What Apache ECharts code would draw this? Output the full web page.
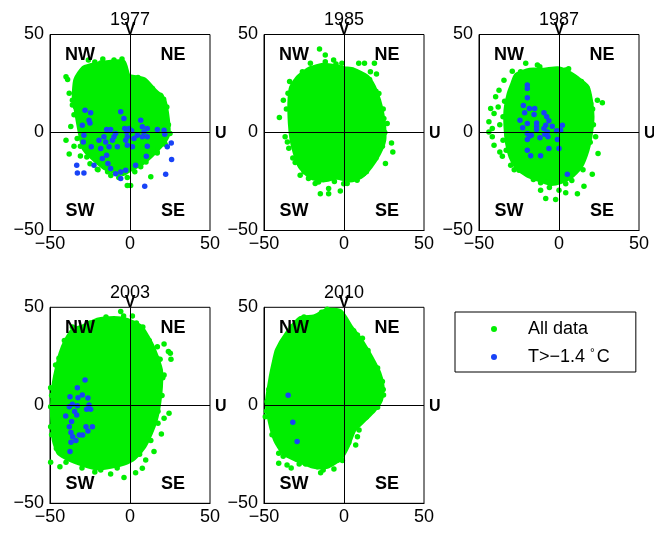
<!DOCTYPE html>
<html><head><meta charset="utf-8">
<script src="https://cdn.jsdelivr.net/npm/echarts@6/dist/echarts.min.js"></script>
<style>html,body{margin:0;padding:0;background:#fff}#c{width:654px;height:534px}</style>
</head><body><div id="c"></div>
<script>
// ---------- data ----------
const years = ['1977', '1985', '1987', '2003', '2010'];
const tickValues = [-50, 0, 50];
const quadrantNames = ['NW', 'NE', 'SW', 'SE'];
const legendNames = ['All data', 'T>−1.4 °C'];

// dense core outline of each "All data" cloud (U, V)
const core1977 = [[-35,18],[-34,27],[-29,33],[-20,35],[-12,36],[-4,36],[-1,29],[4,28],[9,27],[16,21],[21,17],[23,10],[24,0],[22,-4],[19,-7],[13,-12],[7,-16],[0,-19],[-4,-21],[-10,-20],[-16,-18],[-22,-14],[-26,-11],[-29,-8],[-31,-1],[-33,8]];
const core1985 = [[-34,15],[-33,23],[-28.5,28.4],[-21,32.7],[-13,34.4],[-4.4,33.6],[0,32.7],[6,32],[14.4,28.4],[18.6,23.3],[21.8,16.5],[23.8,9.7],[25,3],[25,-4],[21.8,-10.7],[16.5,-17.5],[10.3,-22.7],[4,-24.4],[-4.4,-23],[-12.8,-24.4],[-21,-22.7],[-27.4,-17.5],[-30.5,-10.7],[-32.6,-3.9],[-33.7,4.6]];
const core1987 = [[-31.3,19.9],[-29,25],[-26.7,29.3],[-18.3,31.9],[-9.4,31.9],[-1,32.7],[5.2,31],[11.5,27.6],[17.7,23.3],[19.8,16.5],[20.8,8],[19.8,-0.5],[17.7,-9],[13.5,-17.5],[7.3,-22.7],[1,-25.2],[-5.2,-26.1],[-11.5,-24.4],[-19.8,-21.8],[-26.7,-17.5],[-30.2,-12.4],[-32.3,-5.6],[-33.3,2.9],[-33.3,11.4]];
const core2003 = [[-45.4,19.7],[-43.3,26.5],[-40,33],[-35.5,38.5],[-28,40.5],[-20.4,43.5],[-10,44.4],[-1.7,43.5],[6.7,40.1],[10.8,35],[15,28.2],[19.2,18],[19.2,9.5],[18.1,1],[16,-7.5],[12.9,-14.3],[8.75,-21.1],[2.5,-27],[-3.75,-29.6],[-12.1,-31.3],[-20.4,-32.1],[-28.8,-30.4],[-37.1,-27.9],[-44.4,-24.5],[-47.5,-17.7],[-48.5,-7.5],[-48.5,1],[-47.5,11.2]];
const core2010 = [[-43.9,21.4],[-41.8,28.2],[-35.6,36.7],[-27.2,44.4],[-18.8,45.2],[-10.5,48.6],[-2.1,47.8],[4.2,40.1],[10.5,33.3],[16.7,24.8],[22,16.3],[24,9.5],[23,2.7],[18.8,-2.4],[12.6,-7.5],[6.3,-12.6],[2.1,-21.1],[-2.1,-27],[-10.5,-31.3],[-18.8,-31.3],[-29.3,-27.9],[-37.7,-24.5],[-42.9,-17.7],[-46,-9.2],[-48.1,1],[-46,12.9]];

// scattered "All data" points around the cores
const green1977 = [[-40,28.5],[-39,27],[-38,20],[-37,3],[-40,-4],[-38,-11],[-35,-7],[-26,37],[-22,36],[-17,37.5],[-10,37],[-5,37.5],[-8,32],[-30,31],[-36,14],[-35,9],[-33,-3],[-31,-12],[-25,-16],[-20,-19],[-14,-20],[-12,-22],[-7,-23],[-1.7,-27],[0.4,-27],[3,-20],[10,-15],[13,-22.6],[17,-10],[22,-6],[25,-0.5],[24,4],[23,13],[21,17],[19,19],[11,24],[5,28],[0,28],
  [-33,23],[-36,16.5],[-34,13],[-31,-7],[-27,-12.5],[-20.4,-18.8],[-1.7,-23],[6.7,-17.5],[17,-10.5],[22.5,9],[19.5,18.5],[14,22.5],[7.7,26.5],[-18.3,35.5],[-28.8,32.5]];
const green1985 = [[-15.3,42.6],[-11.7,39.5],[-11.7,36.1],[-6.5,37],[-1.3,35.3],[-21,35.3],[-26,31],[9.2,35.3],[12.8,35.3],[19,35.3],[20.3,29.8],[16.5,31],[21.8,19.9],[27,4.6],[24.9,7.2],[29.7,-5.3],[30.5,-9.9],[25.9,-15.8],[-40.4,7.7],[-37.9,16.5],[-36.8,-2.2],[-35.4,-4.8],[-30.5,-15.3],[-27.4,-21.8],[-22.2,-23.5],[-15.9,-25.2],[-14.8,-31.2],[-9.6,-31.2],[-9.6,-28.6],[-2.3,-29.8],[-0.2,-26.1],[8.2,-24.4],[12.3,-21],[-35,20],[-34,26],
  [-36,12],[-34.5,-8],[-32,-13],[-25,-20],[-18,-26],[-6,-25],[2,-26],[14,-20],[20,-13],[24,-7],[25.5,0],[24.5,12],[20,21],[16,27],[-30,26],[-5,35]];
const green1987 = [[-20.8,35.3],[-29.2,31.3],[-34.4,26.7],[-37.5,21.6],[-39.6,18.2],[-42.7,12.3],[-40.6,9.7],[-43.8,5.5],[-41.7,2],[-43.8,0.3],[-41.7,-2.2],[-40.6,-6.5],[-35.4,-12.1],[-30.2,-16.7],[-25,-19.3],[-11.5,-25.7],[-11.5,-29.5],[-8.3,-33.7],[-2.1,-34.2],[0,-29.5],[4.2,-30.8],[4.2,-26.1],[11.5,-31.2],[15.6,-27.4],[20.8,-21.3],[22.9,-2.2],[24.4,-10.7],[24,16.5],[27.1,15.2],[19.8,14.8],[17.7,22.5],[-13.5,34.4],[4.2,31.9],[-38,13],[-37,-10],[-37,4],
  [-34,16],[-35,8],[-35,-4],[-33,-9],[-28,-19],[-16,-24],[-6,-28],[8,-24.5],[15,-19],[19.5,-5],[21.5,4],[21,12],[14,26],[6,32.5],[-12,33.5],[-24,31]];
const green2003 = [[-5.8,47.8],[1.5,45.6],[17.1,29.9],[21.3,31.3],[24,27.4],[25.6,23.5],[25.2,26.5],[18.8,23.5],[21.3,15.5],[24.4,-4.1],[21.3,-6.6],[17.5,-9.2],[19.6,-14.6],[15,-23.6],[9.8,-27.9],[7.7,-32.1],[3.5,-34.4],[-3.75,-36.9],[-12.1,-35],[-18.3,-33],[-49.6,9],[-49.6,-0.7],[-49.6,-10.9],[-49.6,-29.1],[-43.8,-31.3],[-46.5,20.6],[-44.4,24],[-35,37],[-25,42],[-15,45],[4,42],
  [-36,40],[-41,33],[-46,15],[-49,5],[-49,-15],[-46,-22],[-40,-29],[-30,-32],[-22,-34],[-8,-32],[6,-25],[13,-18],[17.5,-3],[20,5],[20.5,14],[17,24],[12,33],[8,40],[-4,45.5],[-28,40.5]];
const green2010 = [[-10.5,49],[-10,47],[-49.2,-5.8],[-48.1,1.9],[-45,14.6],[24,12.1],[24.7,5.3],[20.5,1.9],[16.7,-1.5],[9.4,-12.6],[4.6,-12.6],[8.4,-16],[7.3,-20.2],[-1,-28.2],[-6.3,-32.5],[-14.6,-34.4],[-16.7,-31.3],[-35.6,-30.4],[-40.8,-29.6],[-40.8,-24.5],[-41.8,-14.3],[11.5,34.2],[8.4,35.9],[-25,45],[-30,42],[-3,46],[-45,-15],[-33,-32],[-24,-30],
  [-42,25],[-47,8],[-48.5,-3],[-44,-14],[-38,-26],[-28,-30],[-13,-33],[-4,-28],[3,-19],[7,-11],[14,-6],[21,-1],[24.5,8],[21,19],[15,28],[6,38],[-14,47.5],[-33,40]];

// T > -1.4 °C points
const blue1977 = [[-28.1,11.4],[-24.6,10.1],[-29.8,3.7],[-25.6,6.3],[-25,4.9],[-28.8,-1.4],[-29.2,-4.8],[-24.2,-7.3],[-22.5,-16.7],[-33.3,-16.7],[-32.9,-20.6],[-28.8,-20.6],[-18.3,-8.2],[-19.4,-3.9],[-16.3,-2.2],[-14.6,1.5],[-12.1,1.5],[-15.2,-4.8],[-13.1,-7.3],[-14.6,-11.6],[-17.3,-13.3],[-13.8,-15.8],[-12.1,-18.4],[-9,-21],[-5.8,-23.5],[-5.8,-20.1],[-2.7,-19.3],[-10,-2.2],[-9,-0.5],[-7.9,-7.3],[-11,-3.9],[-5.8,10.6],[-3.8,7.2],[-3.3,2],[-2.1,0.3],[-0.6,2],[1,0.9],[-1.7,-2.2],[-2.7,-3.9],[-1.7,-6.5],[1.5,-7.3],[2.5,-3.1],[3.5,-16.7],[4.6,-1.4],[6.7,6.3],[7.7,2.9],[8.75,0.3],[10.8,2],[7.7,-2.2],[10.8,-2.2],[10.8,-7],[10.2,-12.1],[17.1,1.5],[21.3,1.2],[21.7,-0.9],[23.3,-7.3],[25.8,-5.3],[26,-13.8],[22.3,-21.3],[9.2,-27.4]];
const blue1985 = [];
const blue1987 = [[-19.8,24.2],[-19.8,22.5],[-19.8,17.7],[-22.3,13.8],[-21.5,10.1],[-18.5,12.3],[-15.2,12.3],[-15.6,9.2],[-24.4,6.3],[-19.8,4.6],[-22.7,2.4],[-14,4.9],[-14,3.2],[-9.4,10.1],[-7.7,8],[-6.3,6],[-8.3,3.7],[-9.4,2],[-7.3,0.3],[-8.9,-0.9],[-6.9,-2.2],[-11.9,-2.7],[-17.3,-1.4],[-19.8,-0.5],[-19.8,-3.6],[-18.5,-1.9],[-4.2,3.2],[-1.5,0.9],[1,1.2],[2.1,3.7],[-1,-3.6],[0,-8.2],[-6.3,-8.2],[-11.5,-11.9],[-19.8,-9],[-17.7,-11.9],[5.2,-21.3],[-14,1.5]];
const blue2003 = [[-28.1,12.9],[-32.9,9],[-37.5,4.4],[-32.5,3.9],[-29.8,5.3],[-26.3,3.7],[-25.6,0.2],[-24.6,-2],[-27.1,-2],[-36,0.5],[-32.9,-0.2],[-37.9,-0.7],[-34.6,-3.2],[-33.3,-4.9],[-40.2,-5.4],[-36.5,-8.3],[-37.9,-10.9],[-36.9,-13.9],[-35.8,-16],[-36.9,-18.9],[-33.8,-18],[-31.7,-15.1],[-29.6,-15.1],[-27.5,-10.9],[-26.3,-13.1],[-23.5,-10.9],[-37.5,-23.6]];
const blue2010 = [[-34.9,5.1],[-32,-8.7],[-29.3,-18.5]];

const cores = [core1977, core1985, core1987, core2003, core2010];
const greens = [green1977, green1985, green1987, green2003, green2010];
const blues = [blue1977, blue1985, blue1987, blue2003, blue2010];

// ---------- layout / style ----------
const FONT = '"Liberation Sans", Arial, Helvetica, sans-serif';
const GREEN = '#00ee00';
const BLUE = '#1843f7';
const W = 160, H = 196;
const gridPos = [[50, 34.5], [264, 34.5], [479, 34.5], [50, 307.3], [264, 307.3]];
const minus = v => String(v).replace('-', '\u2212');

const grids = [], xAxes = [], yAxes = [], series = [], titles = [], graphics = [];
gridPos.forEach(([gl, gt], i) => {
  grids.push({left: gl, top: gt, width: W, height: H, show: true, borderColor: '#000', borderWidth: 1, backgroundColor: 'transparent', containLabel: false});
  const ax = {
    gridIndex: i, type: 'value', min: tickValues[0], max: tickValues[tickValues.length - 1],
    interval: tickValues[1] - tickValues[0],
    splitLine: {show: false}, axisTick: {show: false},
    axisLine: {show: true, onZero: false, lineStyle: {color: '#000', width: 1}},
    axisLabel: {color: '#000', fontSize: 18, fontFamily: FONT, formatter: minus}
  };
  xAxes.push(Object.assign({}, ax, {axisLabel: Object.assign({}, ax.axisLabel, {margin: 5})}));
  yAxes.push(Object.assign({}, ax, {axisLabel: Object.assign({}, ax.axisLabel, {margin: 6})}));

  const core = cores[i];
  series.push({
    type: 'custom', name: legendNames[0], xAxisIndex: i, yAxisIndex: i, data: core, z: 1, silent: true, clip: true,
    renderItem: (params, api) => {
      if (params.dataIndex !== 0) return null;
      const pts = core.map(p => api.coord(p));
      return {type: 'polygon', shape: {points: pts, smooth: 0.2},
        style: {fill: GREEN, stroke: GREEN, lineWidth: 4.5, lineJoin: 'round'}};
    }
  });
  series.push({type: 'scatter', name: legendNames[0], xAxisIndex: i, yAxisIndex: i, data: greens[i],
    symbolSize: 5.5, itemStyle: {color: GREEN, opacity: 1}, z: 2, silent: true});
  series.push({type: 'scatter', xAxisIndex: i, yAxisIndex: i, data: [], z: 3, silent: true,
    markLine: {silent: true, symbol: 'none', animation: false, label: {show: false},
      lineStyle: {color: '#000', width: 1, type: 'solid'},
      data: [{xAxis: 0}, {yAxis: 0}]}});
  series.push({type: 'scatter', name: legendNames[1], xAxisIndex: i, yAxisIndex: i, data: blues[i],
    symbolSize: 5.5, itemStyle: {color: BLUE, opacity: 1}, z: 4, silent: true});

  titles.push({text: years[i], left: gl + W / 2, top: gt - 23.5, textAlign: 'center', padding: 0,
    textStyle: {fontSize: 18, fontWeight: 'normal', color: '#000', fontFamily: FONT, lineHeight: 18}});

  const qpos = [[30, 21], [123, 21], [30, 177], [123, 177]];
  quadrantNames.forEach((q, k) => {
    graphics.push({type: 'text', x: gl + qpos[k][0], y: gt + qpos[k][1], z: 100,
      style: {text: q, fill: '#000', font: 'bold 18px ' + FONT, align: 'center', verticalAlign: 'middle'}});
  });
  graphics.push({type: 'text', x: gl + W / 2, y: gt - 4.5, z: 100,
    style: {text: 'V', fill: '#000', font: 'bold 16px ' + FONT, align: 'center', verticalAlign: 'middle'}});
  graphics.push({type: 'text', x: gl + W + 5, y: gt + H / 2 + 1.5, z: 100,
    style: {text: 'U', fill: '#000', font: 'bold 16px ' + FONT, align: 'left', verticalAlign: 'middle'}});
});

const chart = echarts.init(document.getElementById('c'), null, {renderer: 'canvas'});
chart.setOption({
  animation: false,
  backgroundColor: '#fff',
  title: titles,
  grid: grids,
  xAxis: xAxes,
  yAxis: yAxes,
  series: series,
  graphic: graphics,
  legend: {
    orient: 'vertical', left: 455, top: 312,
    padding: [8, 26, 6, 36], itemGap: 10, itemWidth: 6, itemHeight: 6,
    borderColor: '#000', borderWidth: 1, backgroundColor: '#fff', selectedMode: false,
    data: [
      {name: legendNames[0], icon: 'circle', itemStyle: {color: GREEN}},
      {name: legendNames[1], icon: 'circle', itemStyle: {color: BLUE}}
    ],
    formatter: n => n === legendNames[1] ? '{t|T>\u22121.4 }{d|°}{t|C}' : '{t|' + n + '}',
    textStyle: {
      color: '#000', fontFamily: FONT, fontSize: 18, padding: [0, 0, 0, 26],
      rich: {
        t: {fontSize: 18, fontFamily: FONT, color: '#000', lineHeight: 18},
        d: {fontSize: 12, fontFamily: FONT, color: '#000', lineHeight: 18, verticalAlign: 'top', padding: [0, 2, 0, 0]}
      }
    }
  }
});
</script>
</body></html>
